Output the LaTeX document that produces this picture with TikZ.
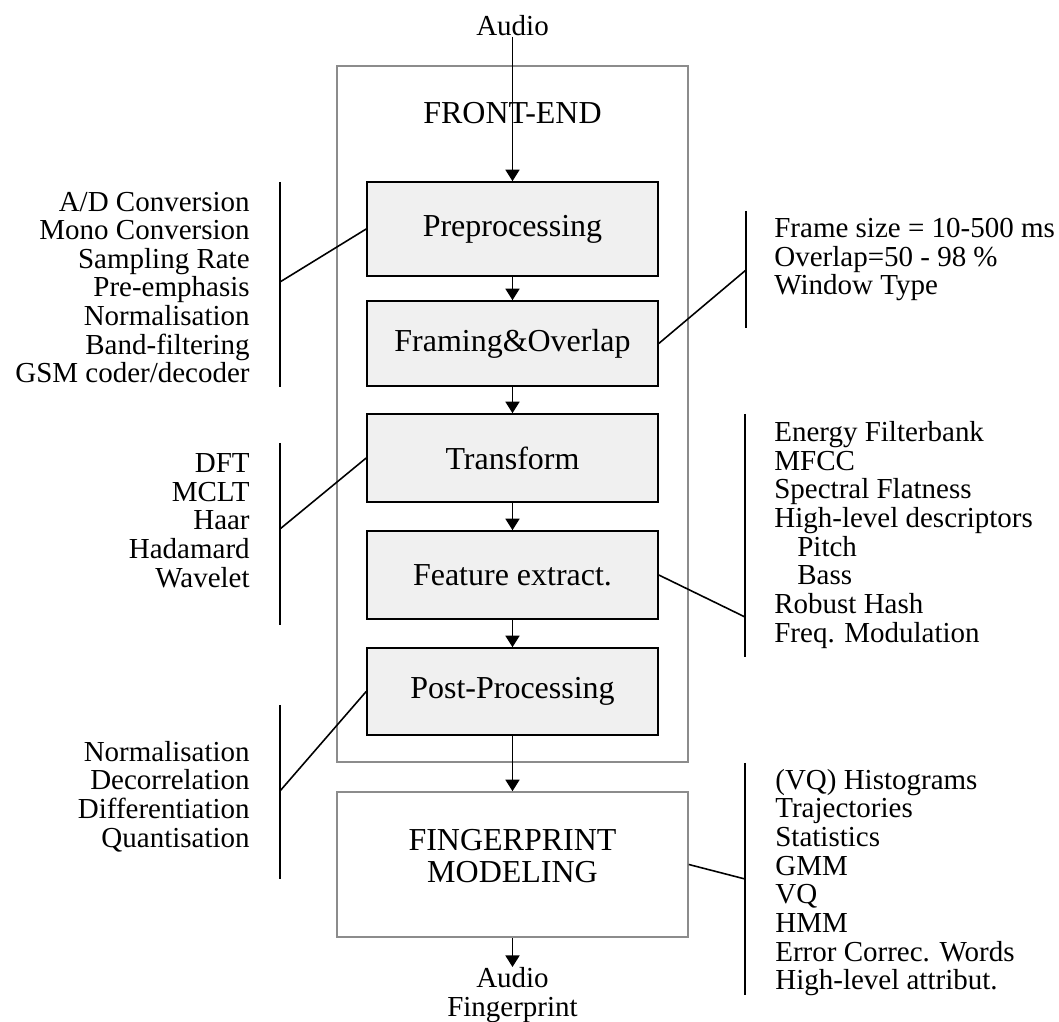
\documentclass[tikz,border=0pt]{standalone}
\usepackage{fontspec}
\setmainfont{Liberation Serif}
\usetikzlibrary{arrows.meta}

\newcommand{\sidefont}{\fontsize{16.5}{16.3}\selectfont}
\newcommand{\stagefont}{\fontsize{18.2}{18.2}\selectfont}

\tikzset{
    stage/.style={draw=black, line width=0.9pt, fill=black!6, minimum width=5.82cm,
        minimum height=1.76cm, inner sep=0pt, font=\stagefont},
    outerbox/.style={draw=black!45, line width=0.9pt, inner sep=0pt},
    notes/.style={font=\sidefont, inner sep=0pt},
    flow/.style={-{Triangle[length=0.23cm, width=0.28cm]}, line width=0.9pt},
    tie/.style={line width=0.9pt}
}

\begin{document}
\begin{tikzpicture}
    \useasboundingbox (0,0) rectangle (21.18,20.44);

    % The two grey blocks
    \node[outerbox, minimum width=7.02cm, minimum height=13.92cm] (frontend) at (10.25,12.16) {};
    \node[outerbox, minimum width=7.02cm, minimum height=2.90cm, align=center, font=\stagefont,
        text depth=0.35cm] (fpmodel) at (10.25,3.15) {FINGERPRINT\\MODELING};
    \node[inner sep=0pt, font=\stagefont] (fetitle) at (10.25,18.18) {FRONT-END};

    % Input and output
    \node[notes] (audioin) at (10.25,19.92) {Audio};
    \node[notes, anchor=north, align=center] (audioout) at (10.25,1.10) {Audio\\Fingerprint};

    % Stages of the front-end, top to bottom
    \node[stage, minimum height=1.88cm] (prep) at (10.25,15.86) {Preprocessing};
    \node[stage, minimum height=1.70cm] (framing) at (10.25,13.57) {Framing\&Overlap};
    \node[stage] (transf) at (10.25,11.28) {Transform};
    \node[stage] (featx) at (10.25,8.94) {Feature extract.};
    \node[stage, minimum height=1.74cm] (postp) at (10.25,6.61) {Post-Processing};

    \draw[flow] (audioin) -- (prep);
    \foreach \a/\b in {prep/framing, framing/transf, transf/featx, featx/postp,
                       postp/fpmodel, fpmodel/audioout}
        \draw[flow] (\a) -- (\b);

    % Left hand lists
    \node[notes, anchor=east, align=right] (prepnotes) at (5.0,14.69)
        {A/D Conversion\\Mono Conversion\\Sampling Rate\\Pre-emphasis\\Normalisation\\Band-filtering\\GSM coder/decoder};
    \node[notes, anchor=east, align=right] (transnotes) at (5.0,10.03)
        {DFT\\MCLT\\Haar\\Hadamard\\Wavelet};
    \node[notes, anchor=east, align=right] (postnotes) at (5.0,4.51)
        {Normalisation\\Decorrelation\\Differentiation\\Quantisation};

    % Right hand lists
    \node[notes, anchor=west, align=left] (framenotes) at (15.48,15.25)
        {Frame size = 10-500 ms\\Overlap=50 - 98 \%\\Window Type};
    \node[notes, anchor=west, align=left] (featnotes) at (15.48,9.74)
        {Energy Filterbank\\MFCC\\Spectral Flatness\\High-level descriptors\\
         \hspace*{0.46cm}Pitch\\\hspace*{0.46cm}Bass\\Robust Hash\\Freq. Modulation};
    \node[notes, anchor=west, align=left] (modelnotes) at (15.5,2.79)
        {(VQ) Histograms\\Trajectories\\Statistics\\GMM\\VQ\\HMM\\Error Correc. Words\\High-level attribut.};

    % Bars beside the lists and where they join the boxes
    \coordinate (prepTop) at (5.6,16.80);  \coordinate (prepBot) at (5.6,12.70);
    \coordinate (prepJoin) at (5.6,14.80);
    \coordinate (transTop) at (5.6,11.58); \coordinate (transBot) at (5.6,7.94);
    \coordinate (transJoin) at (5.6,9.86);
    \coordinate (postTop) at (5.6,6.34);   \coordinate (postBot) at (5.6,2.86);
    \coordinate (postJoin) at (5.6,4.62);
    \coordinate (frameTop) at (14.92,16.22); \coordinate (frameBot) at (14.92,13.88);
    \coordinate (frameJoin) at (14.92,15.04);
    \coordinate (featTop) at (14.9,12.16);  \coordinate (featBot) at (14.9,7.30);
    \coordinate (featJoin) at (14.9,8.10);
    \coordinate (modelTop) at (14.9,5.18);  \coordinate (modelBot) at (14.9,0.54);
    \coordinate (modelJoin) at (14.9,2.86);

    \foreach \s in {prep, trans, post, frame, feat, model}
        \draw[tie] (\s Top) -- (\s Bot);

    \draw[tie] (prepJoin) -- (prep.west);
    \draw[tie] (transJoin) -- (transf.west);
    \draw[tie] (postJoin) -- (postp.west);
    \draw[tie] (frameJoin) -- (framing.east);
    \draw[tie] (featJoin) -- (featx.east);
    \draw[tie] (modelJoin) -- (fpmodel.east);

\end{tikzpicture}
\end{document}
